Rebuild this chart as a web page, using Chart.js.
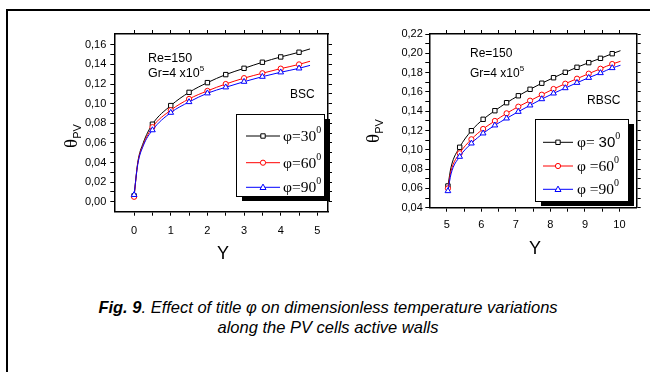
<!DOCTYPE html>
<html><head><meta charset="utf-8">
<script src="https://cdn.jsdelivr.net/npm/chart.js@4.4.0/dist/chart.umd.min.js"></script>
<style>
html,body{margin:0;padding:0;}
body{width:650px;height:372px;background:#fff;position:relative;overflow:hidden;font-family:"Liberation Sans",Arial,sans-serif;color:#000;}
.frame{position:absolute;left:6px;top:9px;width:660px;height:380px;border-top:2px solid #000;border-left:2px solid #000;}
.cw{position:absolute;}
.t{position:absolute;white-space:nowrap;line-height:1;}
.ann{font-size:12.5px;}
.ann sup{font-size:8px;vertical-align:6px;line-height:0;}
.leg{font-family:"Liberation Serif","Times New Roman",serif;font-size:15.5px;}
.leg sup{font-size:10px;vertical-align:8px;line-height:0;}
.yl{font-size:18px;}
.th{transform:translate(-50%,-50%) rotate(-90deg);}
.th .g{font-family:"Liberation Serif",serif;font-size:19px;}
.th sub{font-size:11px;vertical-align:-4px;line-height:0;}
.cap{left:6px;width:644px;text-align:center;font-style:italic;font-size:16.5px;}
</style></head><body>
<div class="frame"></div>
<div class="cw" style="left:60px;top:20px;width:280px;height:230px;"><canvas id="c1"></canvas></div>
<div class="cw" style="left:360px;top:20px;width:290px;height:230px;"><canvas id="c2"></canvas></div>

<div class="t ann" style="left:148px;top:52px;">Re=150</div>
<div class="t ann" style="left:148px;top:67px;">Gr=4 x10<sup>5</sup></div>
<div class="t ann" style="left:290px;top:88px;font-size:12px;">BSC</div>
<div class="t ann" style="left:470px;top:47px;font-size:12px;">Re=150</div>
<div class="t ann" style="left:470px;top:67px;font-size:12px;">Gr=4 x10<sup>5</sup></div>
<div class="t ann" style="left:587px;top:94px;font-size:12px;">RBSC</div>

<div class="t leg" style="left:283px;top:128px;">φ=30<sup>0</sup></div>
<div class="t leg" style="left:283px;top:155px;">φ=60<sup>0</sup></div>
<div class="t leg" style="left:283px;top:179px;">φ=90<sup>0</sup></div>
<div class="t leg" style="left:577px;top:134px;">φ= <span style="font-family:'Liberation Sans',Arial,sans-serif;font-size:15px;">30</span><sup>0</sup></div>
<div class="t leg" style="left:577px;top:158px;">φ =60<sup>0</sup></div>
<div class="t leg" style="left:577px;top:181px;">φ =90<sup>0</sup></div>

<div class="t th" style="left:70px;top:136px;"><span class="g">θ</span><sub>PV</sub></div>
<div class="t th" style="left:372px;top:131px;"><span class="g">θ</span><sub>PV</sub></div>
<div class="t yl" style="left:217px;top:244px;">Y</div>
<div class="t yl" style="left:529px;top:239px;">Y</div>

<div class="t cap" style="top:299px;"><b>Fig. 9</b>. Effect of title φ on dimensionless temperature variations</div>
<div class="t cap" style="top:319px;">along the PV cells active walls</div>

<script>
// ---------- data: left panel (BSC) ----------
const bscY      = [0, 0.1, 0.25, 0.5, 1, 1.5, 2, 2.5, 3, 3.5, 4, 4.5, 4.8];
const bscPhi30  = [0.006, 0.040, 0.060, 0.079, 0.098, 0.1115, 0.1214, 0.1296, 0.136, 0.1422, 0.1476, 0.1524, 0.1558];
const bscPhi60  = [0.005, 0.039, 0.058, 0.076, 0.0933, 0.1048, 0.113, 0.120, 0.126, 0.131, 0.1357, 0.140, 0.1432];
const bscPhi90  = [0.007, 0.038, 0.057, 0.073, 0.0908, 0.1017, 0.1106, 0.1167, 0.1224, 0.1275, 0.132, 0.136, 0.139];
const bscMarker = [1, 0, 0, 1, 1, 1, 1, 1, 1, 1, 1, 1, 0];
// ---------- data: right panel (RBSC) ----------
const rbscY      = [5.03, 5.12, 5.37, 5.71, 6.05, 6.39, 6.73, 7.07, 7.41, 7.75, 8.09, 8.43, 8.77, 9.11, 9.45, 9.79, 10.03];
const rbscPhi30  = [0.0625, 0.082, 0.1026, 0.1198, 0.1316, 0.1405, 0.1488, 0.156, 0.1627, 0.169, 0.1747, 0.1803, 0.1855, 0.1903, 0.1948, 0.1996, 0.2027];
const rbscPhi60  = [0.060, 0.078, 0.0964, 0.1109, 0.1216, 0.1299, 0.1378, 0.1447, 0.1509, 0.1571, 0.163, 0.1685, 0.1737, 0.1789, 0.184, 0.1889, 0.1917];
const rbscPhi90  = [0.0573, 0.075, 0.0929, 0.1067, 0.1171, 0.1254, 0.1326, 0.1395, 0.1461, 0.1526, 0.1585, 0.164, 0.1695, 0.1747, 0.1796, 0.1848, 0.1876];
const rbscMarker = [1, 0, 1, 1, 1, 1, 1, 1, 1, 1, 1, 1, 1, 1, 1, 1, 0];
// ---------- tick values (major = labelled, minor = unlabelled marks) ----------
const bscXMajor = [0, 1, 2, 3, 4, 5];
const bscXMinor = [0.5, 1.5, 2.5, 3.5, 4.5];
const bscYMajor = [0, 0.02, 0.04, 0.06, 0.08, 0.10, 0.12, 0.14, 0.16];
const bscYMinor = [0.01, 0.03, 0.05, 0.07, 0.09, 0.11, 0.13, 0.15];
const rbscXMajor = [5, 6, 7, 8, 9, 10];
const rbscXMinor = [5.5, 6.5, 7.5, 8.5, 9.5];
const rbscYMajor = [0.04, 0.06, 0.08, 0.10, 0.12, 0.14, 0.16, 0.18, 0.20, 0.22];
const rbscYMinor = [0.05, 0.07, 0.09, 0.11, 0.13, 0.15, 0.17, 0.19, 0.21];
const seriesNames = ['φ=30⁰', 'φ=60⁰', 'φ=90⁰'];
const seriesColors = ['#000000', '#ff0000', '#0000ff'];
const seriesShapes = ['rect', 'circle', 'triangle'];

const pts = (xs, ys) => xs.map((x, i) => ({x, y: ys[i]}));

function legendOf(o) {
  return {
    id: 'legendOf',
    afterDatasetsDraw(chart) {
      const ctx = chart.ctx;
      ctx.save();
      ctx.fillStyle = '#000';
      ctx.fillRect(o.x + 6, o.y + 5, o.w, o.h);
      ctx.fillStyle = '#fff';
      ctx.fillRect(o.x, o.y, o.w, o.h);
      ctx.strokeStyle = '#000';
      ctx.lineWidth = 1;
      ctx.strokeRect(o.x + 0.5, o.y + 0.5, o.w, o.h);
      chart.data.datasets.forEach((ds, i) => {
        const yy = o.rows[i];
        ctx.strokeStyle = ds.borderColor;
        ctx.lineWidth = 1;
        ctx.beginPath(); ctx.moveTo(o.lx1, yy); ctx.lineTo(o.lx2, yy); ctx.stroke();
        const cx = (o.lx1 + o.lx2) / 2;
        ctx.fillStyle = '#fff';
        ctx.beginPath();
        if (ds.pointStyle === 'rect') { ctx.rect(cx - 2.2, yy - 2.2, 4.4, 4.4); }
        else if (ds.pointStyle === 'circle') { ctx.arc(cx, yy, 2.6, 0, Math.PI * 2); }
        else { ctx.moveTo(cx, yy - 3.2); ctx.lineTo(cx + 3, yy + 2.2); ctx.lineTo(cx - 3, yy + 2.2); ctx.closePath(); }
        ctx.fill(); ctx.stroke();
      });
      ctx.restore();
    }
  };
}

function makeDatasets(xs, series, markers) {
  return series.map((ys, i) => ({
    label: seriesNames[i],
    data: pts(xs, ys),
    xAxisID: 'x', yAxisID: 'y',
    borderColor: seriesColors[i],
    backgroundColor: '#fff',
    pointBackgroundColor: '#fff',
    pointBorderColor: seriesColors[i],
    pointStyle: seriesShapes[i],
    pointRadius: markers.map(m => m ? (i === 0 ? 3.1 : (i === 1 ? 2.6 : 3.3)) : 0),
    pointBorderWidth: 1,
    borderWidth: 1,
    cubicInterpolationMode: 'monotone',
    order: 3 - i
  }));
}

const comma = v => Number(v).toFixed(2).replace('.', ',');
const tickFont = {family: '"Liberation Sans", Arial, sans-serif', size: 11};
const gridOpts = {display: true, drawOnChartArea: false, drawTicks: true, tickLength: 4, color: '#000', lineWidth: 1};
const borderOpts = {display: true, color: '#000', width: 1.5};
const isMajor = (list, v) => list.some(m => Math.abs(m - v) < 1e-9);
const allTicks = (major, minor) => major.concat(minor).sort((p, q) => p - q).map(v => ({value: v}));

function makeChart(id, cfg) {
  const xTicks = () => allTicks(cfg.xMajor, cfg.xMinor);
  const yTicks = () => allTicks(cfg.yMajor, cfg.yMinor);
  return new Chart(document.getElementById(id), {
    type: 'line',
    data: {datasets: makeDatasets(cfg.xs, cfg.series, cfg.markers)},
    options: {
      responsive: true, maintainAspectRatio: false, animation: false,
      layout: {padding: {top: cfg.padTop, right: cfg.padRight, left: 0, bottom: 0}},
      plugins: {legend: {display: false}, tooltip: {enabled: false}},
      scales: {
        x: {
          type: 'linear', position: 'bottom', min: cfg.xMin, max: cfg.xMax,
          grid: gridOpts, border: borderOpts,
          afterBuildTicks: s => { s.ticks = xTicks(); },
          afterFit: s => { s.height = cfg.xH; },
          ticks: {autoSkip: false, color: '#000', font: tickFont, padding: cfg.xPad, maxRotation: 0,
                  callback: v => isMajor(cfg.xMajor, v) ? String(Math.round(v)) : ''}
        },
        y: {
          type: 'linear', position: 'left', min: cfg.yMin, max: cfg.yMax,
          grid: gridOpts, border: borderOpts,
          afterBuildTicks: s => { s.ticks = yTicks(); },
          afterFit: s => { s.width = cfg.yW; },
          ticks: {autoSkip: false, color: '#000', font: tickFont, padding: cfg.yPad,
                  callback: v => isMajor(cfg.yMajor, v) ? comma(v) : ''}
        },
        x2: {
          type: 'linear', position: 'top', min: cfg.xMin, max: cfg.xMax,
          grid: gridOpts, border: borderOpts,
          afterBuildTicks: s => { s.ticks = xTicks(); },
          afterFit: s => { s.height = 0; },
          ticks: {autoSkip: false, maxRotation: 0, callback: () => ''}
        },
        y2: {
          type: 'linear', position: 'right', min: cfg.yMin, max: cfg.yMax,
          grid: gridOpts, border: borderOpts,
          afterBuildTicks: s => { s.ticks = yTicks(); },
          afterFit: s => { s.width = 0; },
          ticks: {autoSkip: false, callback: () => ''}
        }
      }
    },
    plugins: [legendOf(cfg.legend)]
  });
}

makeChart('c1', {
  xs: bscY, series: [bscPhi30, bscPhi60, bscPhi90], markers: bscMarker,
  xMin: -0.54, xMax: 5.29, yMin: -0.0102, yMax: 0.171,
  xMajor: bscXMajor, xMinor: bscXMinor, yMajor: bscYMajor, yMinor: bscYMinor,
  padTop: 14, padRight: 12, xH: 38.3, yW: 54.3, xPad: 9, yPad: 4,
  legend: {x: 176, y: 94, w: 88, h: 82, lx1: 186, lx2: 220, rows: [116, 142.7, 167.3]}
});
makeChart('c2', {
  xs: rbscY, series: [rbscPhi30, rbscPhi60, rbscPhi90], markers: rbscMarker,
  xMin: 4.49, xMax: 10.5, yMin: 0.04, yMax: 0.22,
  xMajor: rbscXMajor, xMinor: rbscXMinor, yMajor: rbscYMajor, yMinor: rbscYMinor,
  padTop: 14, padRight: 13.3, xH: 42.3, yW: 69.3, xPad: 7, yPad: 2.5,
  legend: {x: 175, y: 99, w: 93, h: 82, lx1: 183, lx2: 213, rows: [122.3, 146, 169.3]}
});
</script>
</body></html>
